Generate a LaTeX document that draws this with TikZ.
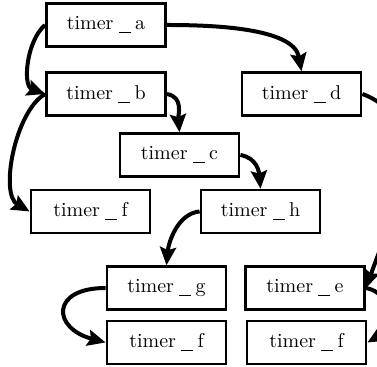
\documentclass[tikz,border=0pt]{standalone}
\usetikzlibrary{arrows.meta}
\newcommand{\usc}{\kern2.6pt\rule[-1.8pt]{6pt}{0.45pt}\kern2.2pt}
\begin{document}
\begin{tikzpicture}[x=0.5pt,y=-0.5pt,
  box/.style={draw,line width=1.3pt,minimum width=59.6pt,minimum height=21.4pt,inner sep=0pt,font=\fontsize{10}{12}\selectfont},
  edge/.style={line width=2pt,-{Stealth[length=9pt,width=8pt,inset=1.4pt]}}]
\clip (0,0) rectangle (377,367);
\useasboundingbox (0,0) rectangle (377,367);
\node[box] (a) at (106,25) {timer\usc a};
\node[box] (b) at (106,94) {timer\usc b};
\node[box] (d) at (301.5,94) {timer\usc d};
\node[box] (c) at (179.5,155) {timer\usc c};
\node[box] (f1) at (90.5,211.5) {timer\usc f};
\node[box] (h) at (260.5,211.5) {timer\usc h};
\node[box] (g) at (166.5,288) {timer\usc g};
\node[box] (e) at (305,288) {timer\usc e};
\node[box] (f2) at (166.5,342.5) {timer\usc f};
\node[box] (f3) at (306.5,342.5) {timer\usc f};
\draw[edge] (a.west) to[out=220,in=160,looseness=0.9] (b.west);
\draw[edge] (a.east) to[out=0,in=100,looseness=0.8] (d.north);
\draw[edge] (b.east) to[out=-10,in=95,looseness=1.1] (c.north);
\draw[edge] (b.west) to[out=210,in=150,looseness=0.75] (f1.west);
\draw[edge] (c.east) to[out=-10,in=95,looseness=1.1] (h.north);
\draw[edge] (h.west) to[out=185,in=85,looseness=0.9] (g.north);
\draw[edge] (d.east) to[out=-20,in=70,looseness=1] (e.east);
\draw[edge] (g.west) to[out=180,in=165,looseness=2.6] (f2.west);
\draw[edge] (e.east) to[out=-10,in=30,looseness=1.3] (f3.east);
\end{tikzpicture}
\end{document}
